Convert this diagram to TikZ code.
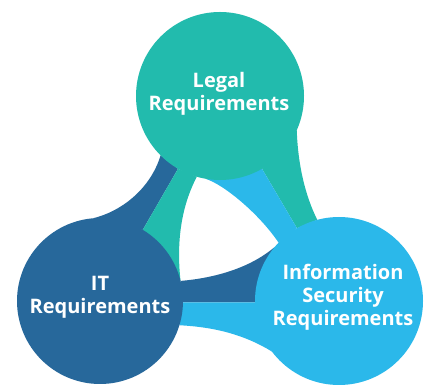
\documentclass[tikz,border=0pt]{standalone}
\usepackage{fontspec}
\setmainfont{Open Sans}
\usepackage{tikz}
\definecolor{legalteal}{HTML}{22BBAD}
\definecolor{itblue}{HTML}{27689B}
\definecolor{secblue}{HTML}{2BB8EA}
\usetikzlibrary{backgrounds}
\tikzstyle{bubble}=[circle, inner sep=0pt, outer sep=0pt, minimum size=168pt]
\tikzstyle{caption}=[text=white, align=center, font=\fontsize{20}{23}\selectfont\bfseries]

\begin{document}
\begin{tikzpicture}[x=1pt,y=1pt]
			\useasboundingbox (0,0) rectangle (430,387);
			\node[bubble, fill=legalteal] (legal) at (220,291) {};
			\node[bubble, fill=itblue, minimum size=166pt] (it) at (100,86) {};
			\node[bubble, fill=secblue] (sec) at (339,86) {};
			\node[caption] (legaltxt) at (219,293) {Legal\\Requirements};
			\node[caption] (ittxt) at (100,90) {IT\\Requirements};
			\node[caption] (sectxt) at (343,90) {Information\\Security\\Requirements};
			\begin{scope}[on background layer]
				\path[fill=itblue]
					(it.95) .. controls (120,175) and (150,197) .. (legal.-135) -- (legal.-120) -- (it.59) -- cycle;
				\path[fill=legalteal]
					(legal.-120) -- (it.59) -- (it.14) .. controls (176,147) and (182,182) .. (legal.-106) -- cycle;
				\path[fill=legalteal]
					(legal.-60) -- (legal.-24) .. controls (298,222) and (305,192) .. (sec.105) -- (sec.120) -- cycle;
				\path[fill=secblue]
					(legal.-100) .. controls (225,202) and (260,172) .. (sec.136) -- (sec.120) -- (legal.-60) -- cycle;
				\path[fill=itblue]
					(it.14) .. controls (215,109) and (250,119) .. (sec.140) -- (sec.181) -- (it.-1) -- cycle;
				\path[fill=secblue]
					(it.-1) -- (sec.181) -- (sec.-143) .. controls (245,52) and (215,60) .. (it.-17) -- cycle;
			\end{scope}
		\end{tikzpicture}
\end{document}
